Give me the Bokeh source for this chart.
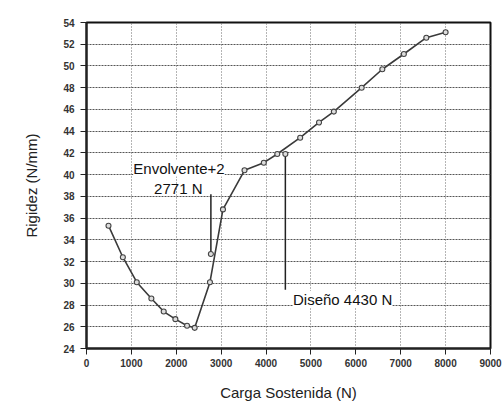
from bokeh.plotting import figure
from bokeh.models import Range1d, FixedTicker, Label, ColumnDataSource
from bokeh.embed import file_html
from bokeh.resources import INLINE

# Data
carga = [490, 810, 1120, 1445, 1720, 1980, 2240, 2410, 2750, 3040, 3520,
         3950, 4250, 4760, 5180, 5510, 6130, 6590, 7070, 7570, 8000]
rigidez = [35.3, 32.4, 30.1, 28.6, 27.4, 26.7, 26.1, 25.9, 30.1, 36.8, 40.4,
           41.1, 41.9, 43.4, 44.8, 45.8, 48.0, 49.7, 51.1, 52.6, 53.1]

x_ticks = [0, 1000, 2000, 3000, 4000, 5000, 6000, 7000, 8000, 9000]
y_ticks = [24, 26, 28, 30, 32, 34, 36, 38, 40, 42, 44, 46, 48, 50, 52, 54]

envolvente_x = [2771]
envolvente_y = [32.7]
envolvente_top = 38.2
diseno_x = [4430]
diseno_y = [41.9]
diseno_bottom = 29.4

FONT = "Liberation Sans"

p = figure(width=504, height=403, output_backend="svg", toolbar_location=None,
           x_range=Range1d(0, 9000), y_range=Range1d(24, 54),
           min_border_left=86, min_border_right=14, min_border_top=22,
           min_border_bottom=50, background_fill_color="white",
           border_fill_color="white")

p.outline_line_color = "#111111"
p.outline_line_width = 2

# grids
p.xgrid.ticker = FixedTicker(ticks=x_ticks)
p.ygrid.ticker = FixedTicker(ticks=y_ticks)
p.ygrid.grid_line_color = "#555555"
p.ygrid.grid_line_dash = "2 1"
p.ygrid.grid_line_width = 1
p.xgrid.grid_line_color = "#6a6a6a"
p.xgrid.grid_line_dash = "1 2"
p.xgrid.grid_line_width = 1

# axes
for ax, ticks in ((p.xaxis[0], x_ticks), (p.yaxis[0], y_ticks)):
    ax.ticker = FixedTicker(ticks=ticks)
    ax.axis_line_width = 2
    ax.axis_line_color = "#222222"
    ax.major_tick_line_color = "#222222"
    ax.major_tick_out = 6
    ax.major_tick_in = 0
    ax.minor_tick_line_color = None
    ax.major_label_text_font = FONT
    ax.major_label_text_font_size = "10px"
    ax.major_label_text_font_style = "bold"
    ax.major_label_text_color = "#333333"
    ax.axis_label_text_font = FONT
    ax.axis_label_text_font_size = "15px"
    ax.axis_label_text_font_style = "normal"
    ax.axis_label_text_color = "#222222"

p.xaxis.axis_label = "Carga Sostenida (N)"
p.yaxis.axis_label = "Rigidez (N/mm)"
p.xaxis.major_label_standoff = 4
p.yaxis.major_label_standoff = 6
p.xaxis.axis_label_standoff = 14
p.yaxis.axis_label_standoff = 20

src = ColumnDataSource(data=dict(x=carga, y=rigidez))
p.line("x", "y", source=src, line_color="#3a3a3a", line_width=1.6)
p.scatter("x", "y", source=src, marker="circle", size=5, fill_color="#dddddd",
          line_color="#444444", line_width=1.1)

# annotation lines
p.segment(x0=envolvente_x, y0=envolvente_y, x1=envolvente_x, y1=[envolvente_top],
          line_color="#222222", line_width=1.5)
p.segment(x0=diseno_x, y0=diseno_y, x1=diseno_x, y1=[diseno_bottom],
          line_color="#222222", line_width=1.5)
p.scatter(envolvente_x + diseno_x, envolvente_y + diseno_y, marker="circle",
          size=5, fill_color="#dddddd", line_color="#444444", line_width=1.1)

p.add_layout(Label(x=2060, y=40.6, text="Envolvente+2", text_align="center",
                   text_baseline="middle", text_font=FONT, text_font_size="15px",
                   text_color="#111111", background_fill_color="white"))
p.add_layout(Label(x=2045, y=38.75, text="2771 N", text_align="center",
                   text_baseline="middle", text_font=FONT, text_font_size="15px",
                   text_color="#111111"))
p.add_layout(Label(x=4600, y=28.5, text="Diseño 4430 N", text_align="left",
                   text_baseline="middle", text_font=FONT, text_font_size="15px",
                   text_color="#111111", background_fill_color="white"))

open("out.html", "w").write(file_html(p, INLINE))
